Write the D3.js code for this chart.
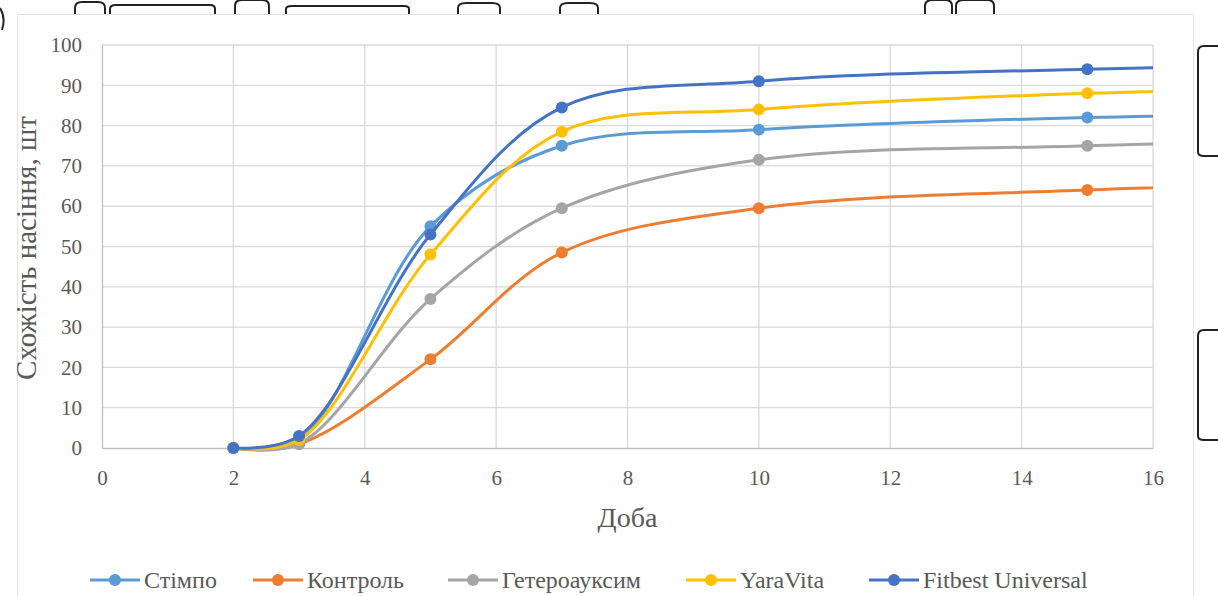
<!DOCTYPE html>
<html>
<head>
<meta charset="utf-8">
<script src="https://cdn.jsdelivr.net/npm/d3@7"></script>
<style>
  body { margin: 0; background: #fff; }
  svg text { font-family: "Liberation Serif", "DejaVu Serif", serif; }
</style>
</head>
<body>
<div id="chart" style="width:1218px;height:596px;"></div>
<script>
// days (last day lies beyond the axis and is clipped, like in the source)
const days = [2, 3, 5, 7, 10, 15, 20];

const stimpo      = [0, 2, 55, 75, 79, 82, 83];
const kontrol     = [0, 1, 22, 48.5, 59.5, 64, 66];
const heteroaux   = [0, 1, 37, 59.5, 71.5, 75, 77];
const yaraVita    = [0, 2, 48, 78.5, 84, 88, 89.5];
const fitbest     = [0, 3, 53, 84.5, 91, 94, 95.5];

const seriesNames = ["Стімпо", "Контроль", "Гетероауксим", "YaraVita", "Fitbest Universal"];
const seriesValues = [stimpo, kontrol, heteroaux, yaraVita, fitbest];
const colors = ["#5B9BD5", "#ED7D31", "#A5A5A5", "#FFC000", "#4472C4"];

const xTicks = [0, 2, 4, 6, 8, 10, 12, 14, 16];
const yTicks = [0, 10, 20, 30, 40, 50, 60, 70, 80, 90, 100];

const xTitle = "Доба";
const yTitle = "Схожість насіння, шт";

const FONT = '"Liberation Serif", "DejaVu Serif", serif';

const parent = document.getElementById("chart"),
      W = parent.clientWidth,
      H = parent.clientHeight;

const svg = d3.select(parent).append("svg")
    .attr("width", W).attr("height", H);

// chart frame
svg.append("rect")
    .attr("x", 17.5).attr("y", 14.5)
    .attr("width", 1176).attr("height", 600)
    .attr("fill", "none").attr("stroke", "#e3e3e3");

// scan artefacts around the figure
const artefacts = [
  "M75,14 L75,8 Q75,2 82,2 L98,2 Q105,2 105,8 L105,14",
  "M110,14 L110,9 Q110,5 116,5 L210,5 Q215,5 215,9 L215,14",
  "M235,14 L235,6 Q235,0 242,0 L262,0 Q269,0 269,6 L269,14",
  "M286,14 L286,9 Q286,6 292,6 L404,6 Q409,6 409,9 L409,14",
  "M458,14 L458,8 Q458,3 466,3 L492,3 Q500,3 500,8 L500,14",
  "M560,14 L560,8 Q560,3 568,3 L590,3 Q598,3 598,8 L598,14",
  "M925,14 L925,6 Q925,0 933,0 L945,0 Q952,0 952,6 L952,14",
  "M956,14 L956,6 Q956,0 964,0 L987,0 Q994,0 994,6 L994,14",
  "M1218,46 L1204,46 Q1198,46 1198,52 L1198,152 Q1198,156 1204,156 L1218,156",
  "M1218,330 L1204,330 Q1198,330 1198,336 L1198,436 Q1198,440 1204,440 L1218,440",
  "M0,8 Q6,18 2,30"
];
svg.append("g").selectAll("path")
    .data(artefacts).enter().append("path")
    .attr("d", d => d)
    .attr("fill", "none").attr("stroke", "#222").attr("stroke-width", 2);

const margin = {top: 45, right: 65, bottom: 148, left: 102};
const width = W - margin.left - margin.right,   // 1051
      height = H - margin.top - margin.bottom;  // 403

const g = svg.append("g")
    .attr("transform", "translate(" + margin.left + "," + margin.top + ")");

const x = d3.scaleLinear().domain([0, 16]).range([0, width]);
const y = d3.scaleLinear().domain([0, 100]).range([height, 0]);

// gridlines
g.append("g").selectAll("line")
    .data(yTicks.slice(1)).enter().append("line")
    .attr("x1", 0).attr("x2", width)
    .attr("y1", d => y(d)).attr("y2", d => y(d))
    .attr("stroke", "#d9d9d9").attr("stroke-width", 1.3);
g.append("g").selectAll("line")
    .data(xTicks.slice(1)).enter().append("line")
    .attr("y1", 0).attr("y2", height)
    .attr("x1", d => x(d)).attr("x2", d => x(d))
    .attr("stroke", "#d9d9d9").attr("stroke-width", 1.3);

// axes
const xAxis = g.append("g")
    .attr("transform", "translate(0," + height + ")")
    .call(d3.axisBottom(x).tickValues(xTicks).tickSize(0).tickPadding(22));
const yAxis = g.append("g")
    .call(d3.axisLeft(y).tickValues(yTicks).tickSize(0).tickPadding(20));
[xAxis, yAxis].forEach(a => {
    a.attr("font-family", FONT).attr("font-size", 21);
    a.select(".domain").attr("stroke", "#bfbfbf").attr("stroke-width", 1.3);
    a.selectAll("text").attr("fill", "#595959");
});

// axis titles
svg.append("text")
    .attr("x", margin.left + width / 2).attr("y", 527)
    .attr("text-anchor", "middle")
    .attr("fill", "#595959").style("font-size", "28px")
    .text(xTitle);
svg.append("text")
    .attr("transform", "translate(36," + 248 + ") rotate(-90)")
    .attr("text-anchor", "middle")
    .attr("fill", "#595959").style("font-size", "29px")
    .text(yTitle);

// clip for the series
svg.append("defs").append("clipPath").attr("id", "plot-clip")
    .append("rect").attr("x", -10).attr("y", -10)
    .attr("width", width + 10).attr("height", height + 20);

const line = d3.line()
    .x(d => x(d[0]))
    .y(d => y(d[1]))
    .curve(d3.curveCatmullRom.alpha(0.5));

const chart_data = g.append("g").attr("clip-path", "url(#plot-clip)");

seriesValues.forEach((vals, i) => {
    const pts = days.map((d, j) => [d, vals[j]]);
    chart_data.append("path")
        .datum(pts)
        .attr("d", line)
        .attr("fill", "none")
        .attr("stroke", colors[i])
        .attr("stroke-width", 3);
    chart_data.selectAll(".m" + i)
        .data(pts.filter(p => p[0] <= 16))
        .enter().append("circle")
        .attr("class", "m" + i)
        .attr("cx", d => x(d[0]))
        .attr("cy", d => y(d[1]))
        .attr("r", 6)
        .attr("fill", colors[i]);
});

// legend
const legendX = [90, 253, 448, 686, 869];
const legend = svg.append("g").attr("transform", "translate(0,580)");
seriesNames.forEach((name, i) => {
    const lg = legend.append("g").attr("transform", "translate(" + legendX[i] + ",0)");
    lg.append("line").attr("x1", 0).attr("x2", 50)
        .attr("stroke", colors[i]).attr("stroke-width", 3);
    lg.append("circle").attr("cx", 25).attr("r", 6).attr("fill", colors[i]);
    lg.append("text").attr("x", 54).attr("dy", "0.35em")
        .attr("fill", "#595959").style("font-size", "24px")
        .text(name);
});
</script>
</body>
</html>
